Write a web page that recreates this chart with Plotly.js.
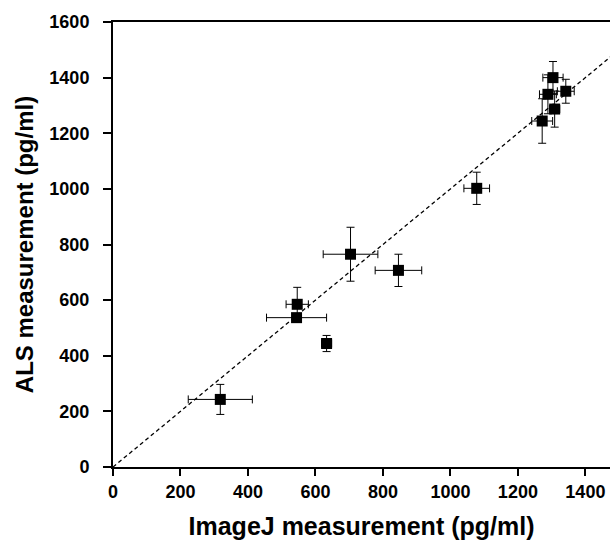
<!DOCTYPE html>
<html>
<head>
<meta charset="utf-8">
<script src="https://cdn.plot.ly/plotly-3.0.1.min.js"></script>
<style>html,body{margin:0;padding:0;background:#fff;}#chart{width:610px;height:540px;}</style>
</head>
<body>
<div id="chart"></div>
<script>
// ImageJ (x) vs ALS (y) measurements, pg/ml
const imagejValues = [318, 546, 544, 633, 704, 846, 1078, 1272, 1309, 1289, 1304, 1342];
const alsValues    = [243, 585, 537, 444, 765, 707, 1002, 1244, 1287, 1340, 1400, 1351];
const imagejErrors = [95, 33, 89, 15, 81, 69, 38, 31, 15, 25, 30, 25];
const alsErrors    = [54, 61, 15, 29, 97, 58, 58, 80, 65, 70, 58, 43];
const identityX = [0, 1500];
const identityY = [0, 1500];
const xTickVals = [0, 200, 400, 600, 800, 1000, 1200, 1400];
const yTickVals = [0, 200, 400, 600, 800, 1000, 1200, 1400, 1600];

const font = "Liberation Sans, Arial, sans-serif";

const traces = [
  {
    x: identityX, y: identityY, mode: 'lines', type: 'scatter',
    line: {color: '#000', width: 1.3, dash: '4px,3px'},
    hoverinfo: 'skip', showlegend: false
  },
  {
    x: imagejValues, y: alsValues, mode: 'markers', type: 'scatter',
    marker: {symbol: 'square', size: 11, color: '#000'},
    error_x: {type: 'data', array: imagejErrors, visible: true, color: '#000', thickness: 1, width: 4},
    error_y: {type: 'data', array: alsErrors, visible: true, color: '#000', thickness: 1, width: 4},
    showlegend: false
  }
];

const layout = {
  width: 610, height: 540,
  margin: {l: 113, r: 0, t: 22, b: 73, pad: 0},
  paper_bgcolor: '#fff', plot_bgcolor: '#fff',
  showlegend: false,
  font: {family: font, color: '#000'},
  xaxis: {
    range: [0, 1473], tickvals: xTickVals, ticktext: xTickVals.map(String),
    showgrid: false, zeroline: false, showline: true, linecolor: '#000', linewidth: 2,
    mirror: true, ticks: 'outside', ticklen: 7, tickwidth: 2, tickcolor: '#000',
    tickfont: {family: font, size: 18, weight: 'bold', color: '#000'},
    title: {text: 'ImageJ measurement (pg/ml)', font: {family: font, size: 25, weight: 'bold', color: '#000'}, standoff: 26},
    automargin: false, fixedrange: true
  },
  yaxis: {
    range: [0, 1600], tickvals: yTickVals, ticktext: yTickVals.map(String),
    showgrid: false, zeroline: false, showline: true, linecolor: '#000', linewidth: 2,
    mirror: false, ticks: 'outside', ticklen: 8, tickwidth: 2, tickcolor: '#000',
    ticklabelstandoff: 10,
    tickfont: {family: font, size: 18, weight: 'bold', color: '#000'},
    title: {text: 'ALS measurement (pg/ml)', font: {family: font, size: 24, weight: 'bold', color: '#000'}, standoff: 9},
    automargin: false, fixedrange: true
  }
};

Plotly.newPlot('chart', traces, layout, {staticPlot: true, displayModeBar: false});
</script>
</body>
</html>
